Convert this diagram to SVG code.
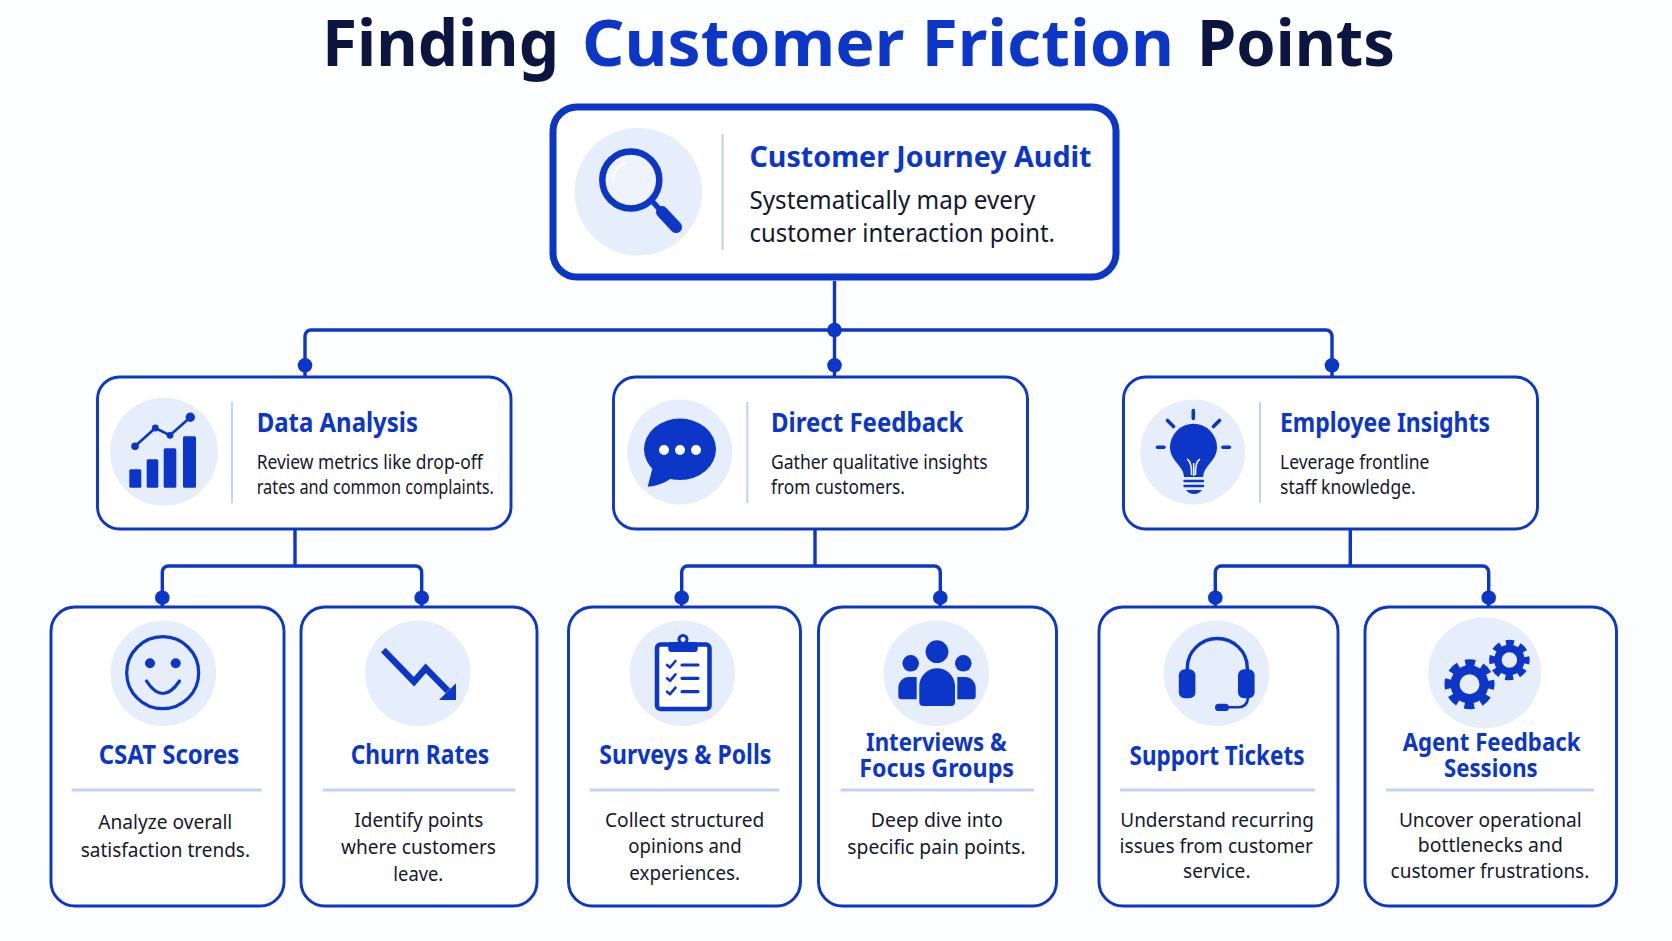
<svg xmlns="http://www.w3.org/2000/svg" width="1672" height="941" viewBox="0 0 1672 941">
<style>
text{font-family:"Noto Sans","Open Sans","Liberation Sans",sans-serif}
.box{fill:#fff;stroke:#0b36c8;stroke-width:2.9}
.soft{fill:#e6edfb}
.rule{stroke:#c3d1f2;fill:none}
.t{font-weight:700;fill:#0b36c8;font-size:26px}
.t2{font-size:24.5px}
.b{font-weight:400;fill:#14182c;font-size:19px}
.lb{font-weight:400;fill:#14182c;font-size:20.5px}
.ic{fill:#0b36c8}
.ln{fill:none;stroke:#0b36c8;stroke-linecap:round;stroke-linejoin:round}
.con{fill:none;stroke:#0b36c8;stroke-width:3.4;stroke-linejoin:round}
.h{font-size:64px;font-weight:700}
</style>
<rect width="1672" height="941" fill="#fdfeff"/>
<g id="title">
<text class="h" x="322" y="66" fill="#0b1540" textLength="237" lengthAdjust="spacingAndGlyphs">Finding</text>
<text class="h" x="582" y="66" fill="#0b36c8" textLength="592" lengthAdjust="spacingAndGlyphs">Customer Friction</text>
<text class="h" x="1197" y="66" fill="#0b1540" textLength="198" lengthAdjust="spacingAndGlyphs">Points</text>
</g>

<g id="connectors">
<path class="con" d="M834.5 281V377M305 377V336a6 6 0 0 1 6-6H1326a6 6 0 0 1 6 6V377"/>
<path class="con" d="M295 529V566M162.3 607V572a6 6 0 0 1 6-6H415.7a6 6 0 0 1 6 6V607"/>
<path class="con" d="M815 529V566M681.7 607V572a6 6 0 0 1 6-6H934.3a6 6 0 0 1 6 6V607"/>
<path class="con" d="M1350.3 529V566M1215.3 607V572a6 6 0 0 1 6-6H1482.7a6 6 0 0 1 6 6V607"/>
<g class="ic">
<circle cx="834.5" cy="330" r="7.3"/><circle cx="834.5" cy="365.3" r="7.3"/><circle cx="305" cy="365.3" r="7.3"/><circle cx="1332" cy="365.3" r="7.3"/>
<circle cx="162.3" cy="597.7" r="7.3"/><circle cx="421.7" cy="597.7" r="7.3"/><circle cx="681.7" cy="597.7" r="7.3"/><circle cx="940.3" cy="597.7" r="7.3"/><circle cx="1215.3" cy="597.7" r="7.3"/><circle cx="1488.7" cy="597.7" r="7.3"/>
</g>
</g>

<g id="node-audit">
<rect class="box" x="553" y="107" width="563" height="170" rx="24" style="stroke-width:7"/>
<circle class="soft" cx="638.3" cy="191.7" r="63.8"/>
<circle cx="630.8" cy="180" r="28.5" fill="#eef3fd" stroke="#0b36c8" stroke-width="6.5"/>
<path d="M613 180a18 18 0 0 1 12-17" fill="none" stroke="#fff" stroke-width="2.5" stroke-linecap="round"/>
<path class="ln" d="M652 201L662 212" stroke-width="5.5"/>
<path class="ln" d="M662 212L676 227" stroke-width="12"/>
<path class="rule" d="M722.6 134V250" stroke-width="2.2"/>
<text class="t" x="749.5" y="167.3" style="font-size:29px" textLength="342" lengthAdjust="spacingAndGlyphs">Customer Journey Audit</text>
<text class="b" x="749.5" y="209.3" style="font-size:25px" textLength="285.8" lengthAdjust="spacingAndGlyphs">Systematically map every</text>
<text class="b" x="749.5" y="241.7" style="font-size:25px" textLength="305.5" lengthAdjust="spacingAndGlyphs">customer interaction point.</text>
</g>

<g id="node-data-analysis">
<rect class="box" x="97.5" y="377" width="413.5" height="152" rx="22"/>
<circle class="soft" cx="164" cy="451.8" r="54"/>
<g class="ic">
<rect x="129.3" y="469.3" width="12" height="18.4" rx="1.5"/><rect x="146.7" y="459.3" width="11.6" height="28.4" rx="1.5"/><rect x="163.7" y="448.3" width="12.6" height="39.4" rx="1.5"/><rect x="183" y="436.3" width="13" height="51.4" rx="1.5"/>
<circle cx="135" cy="446.3" r="3.8"/><circle cx="155.3" cy="428" r="3.4"/><circle cx="170" cy="435.3" r="3.4"/><circle cx="190.3" cy="417.3" r="4.7"/>
</g>
<path class="ln" d="M135 446.3L155.3 428L170 435.3L190.3 417.3" stroke-width="2.6"/>
<path class="rule" d="M232 401.7V503.3" stroke-width="2"/>
<text class="t" x="256.7" y="432.3" textLength="161.3" lengthAdjust="spacingAndGlyphs">Data Analysis</text>
<text class="b" x="256.7" y="469" textLength="226" lengthAdjust="spacingAndGlyphs">Review metrics like drop-off</text>
<text class="b" x="256.7" y="494.3" textLength="237.3" lengthAdjust="spacingAndGlyphs">rates and common complaints.</text>
</g>

<g id="node-direct-feedback">
<rect class="box" x="613.5" y="377" width="414" height="152" rx="22"/>
<circle class="soft" cx="679.7" cy="452" r="52.5"/>
<ellipse class="ic" cx="680" cy="449.3" rx="36" ry="30.7"/>
<path class="ic" d="M653 466L647.7 486.7Q660 486 672 478Z"/>
<g fill="#fff"><circle cx="664" cy="450" r="5"/><circle cx="680" cy="450" r="5"/><circle cx="696" cy="450" r="5"/></g>
<path class="rule" d="M747.3 402V503" stroke-width="2"/>
<text class="t" x="771" y="432.3" textLength="192.3" lengthAdjust="spacingAndGlyphs">Direct Feedback</text>
<text class="b" x="771" y="469" textLength="216.7" lengthAdjust="spacingAndGlyphs">Gather qualitative insights</text>
<text class="b" x="771" y="494.3" textLength="134" lengthAdjust="spacingAndGlyphs">from customers.</text>
</g>

<g id="node-employee-insights">
<rect class="box" x="1123.5" y="377" width="414" height="152" rx="22"/>
<circle class="soft" cx="1192.7" cy="452" r="52.5"/>
<path class="ic" d="M1184 477C1184 466 1170 461 1170 447.3a23.5 23.5 0 0 1 47 0C1217 461 1203.3 466 1203.3 477Z"/>
<path d="M1193.7 476V463M1187 459Q1192 462 1191.5 475M1200 459Q1195 462 1195.5 475" fill="none" stroke="#e6edfb" stroke-width="1.6"/>
<path class="ln" d="M1184.5 481H1203M1184.5 486H1203" stroke-width="2.4"/>
<path class="ic" d="M1186 490H1202Q1199 494 1194 494Q1189 494 1186 490Z"/>
<path class="ln" d="M1193.3 410.5V418.5M1167.5 420.5L1173.5 426.5M1219.5 420.5L1213.5 426.5M1157.5 447.3H1164M1223 447.3H1229.5" stroke-width="3.6"/>
<path class="rule" d="M1260 402V503" stroke-width="2"/>
<text class="t" x="1280" y="432.3" textLength="210" lengthAdjust="spacingAndGlyphs">Employee Insights</text>
<text class="b" x="1280" y="469" textLength="149.3" lengthAdjust="spacingAndGlyphs">Leverage frontline</text>
<text class="b" x="1280" y="494.3" textLength="135.7" lengthAdjust="spacingAndGlyphs">staff knowledge.</text>
</g>

<g id="node-csat">
<rect class="box" x="51" y="607" width="233" height="299" rx="24"/>
<circle class="soft" cx="163.3" cy="673.3" r="52.8"/>
<circle cx="162.7" cy="672.7" r="36" fill="none" stroke="#0b36c8" stroke-width="3.2"/>
<circle class="ic" cx="150" cy="663.3" r="5"/><circle class="ic" cx="175.7" cy="663.3" r="5"/>
<path class="ln" d="M146.5 681Q162.7 706 179.5 681" stroke-width="3.2"/>
<text class="t" x="98.7" y="764" textLength="140.6" lengthAdjust="spacingAndGlyphs">CSAT Scores</text>
<path class="rule" d="M71.7 790H261.7" stroke-width="3"/>
<text class="lb" x="98.3" y="829" textLength="134" lengthAdjust="spacingAndGlyphs">Analyze overall</text>
<text class="lb" x="80.7" y="856.7" textLength="169.3" lengthAdjust="spacingAndGlyphs">satisfaction trends.</text>
</g>

<g id="node-churn">
<rect class="box" x="301" y="607" width="236" height="299" rx="24"/>
<circle class="soft" cx="417.8" cy="673.3" r="52.8"/>
<path d="M383.3 650L414 681.7L425.7 668.3L448 691" fill="none" stroke="#0b36c8" stroke-width="6.5"/>
<path class="ic" d="M456 683.3V700H439Z"/>
<text class="t" x="350.7" y="764" textLength="138.6" lengthAdjust="spacingAndGlyphs">Churn Rates</text>
<path class="rule" d="M322.7 790H515.3" stroke-width="3"/>
<text class="lb" x="354.3" y="826.7" textLength="129" lengthAdjust="spacingAndGlyphs">Identify points</text>
<text class="lb" x="341" y="854" textLength="155" lengthAdjust="spacingAndGlyphs">where customers</text>
<text class="lb" x="393.3" y="881" textLength="50" lengthAdjust="spacingAndGlyphs">leave.</text>
</g>

<g id="node-surveys">
<rect class="box" x="568.5" y="607" width="232" height="299" rx="24"/>
<circle class="soft" cx="682.3" cy="673.3" r="52.8"/>
<rect x="657" y="644.5" width="52.5" height="64.5" rx="3.5" fill="#fff" stroke="#0b36c8" stroke-width="4.5"/>
<rect class="ic" x="668.3" y="642" width="29.4" height="10" rx="3"/>
<circle class="ic" cx="683" cy="639.5" r="5.5"/><circle cx="683" cy="639.5" r="2.4" fill="#fff"/>
<path class="ln" d="M667 665L670 667.5L675.5 661M667 678.3L670 680.8L675.5 674.3M667 691.7L670 694.2L675.5 687.7" stroke-width="2.6"/>
<path class="ln" d="M682 665H698M682 678.3H698M682 691.7H698" stroke-width="3.2"/>
<text class="t" x="599.3" y="763.5" textLength="172" lengthAdjust="spacingAndGlyphs">Surveys &amp; Polls</text>
<path class="rule" d="M589.7 790H779.3" stroke-width="3"/>
<text class="lb" x="605" y="826.7" textLength="159.3" lengthAdjust="spacingAndGlyphs">Collect structured</text>
<text class="lb" x="628.3" y="853.3" textLength="113.4" lengthAdjust="spacingAndGlyphs">opinions and</text>
<text class="lb" x="629.3" y="880" textLength="110.7" lengthAdjust="spacingAndGlyphs">experiences.</text>
</g>

<g id="node-interviews">
<rect class="box" x="818.5" y="607" width="238" height="299" rx="24"/>
<circle class="soft" cx="936.2" cy="673.3" r="52.8"/>
<g class="ic">
<circle cx="937" cy="651.7" r="11.4"/><circle cx="910.7" cy="663.3" r="8.3"/><circle cx="963.3" cy="663.3" r="8.3"/>
<path d="M919.3 686a17.8 17.8 0 0 1 35.7 0V702a4 4 0 0 1-4 4H923.3a4 4 0 0 1-4-4Z"/>
<path d="M916.7 677H909a10.7 10.7 0 0 0-10.7 10.7V696.3a3 3 0 0 0 3 3H916.7Z"/>
<path d="M957.3 677H965a10.7 10.7 0 0 1 10.7 10.7V696.3a3 3 0 0 1-3 3H957.3Z"/>
</g>
<text class="t t2" x="866" y="750.5" textLength="140.7" lengthAdjust="spacingAndGlyphs">Interviews &amp;</text>
<text class="t t2" x="859.3" y="777" textLength="154.7" lengthAdjust="spacingAndGlyphs">Focus Groups</text>
<path class="rule" d="M840.7 790H1034" stroke-width="3"/>
<text class="lb" x="870.7" y="826.7" textLength="132" lengthAdjust="spacingAndGlyphs">Deep dive into</text>
<text class="lb" x="847.3" y="854" textLength="178.4" lengthAdjust="spacingAndGlyphs">specific pain points.</text>
</g>

<g id="node-support">
<rect class="box" x="1099" y="607" width="239" height="299" rx="24"/>
<circle class="soft" cx="1216.5" cy="673.3" r="52.8"/>
<path class="ln" d="M1187.3 672V668a30 29.5 0 0 1 60 0V672" stroke-width="3.4"/>
<rect class="ic" x="1178.8" y="669.3" width="16.6" height="29" rx="6"/>
<rect class="ic" x="1238" y="669.3" width="16.6" height="29" rx="6"/>
<path class="ln" d="M1248 698Q1247 707.3 1238 707.3H1226" stroke-width="2.6"/>
<rect class="ic" x="1215" y="703.7" width="14" height="7.4" rx="3.7"/>
<text class="t" x="1129.6" y="765" textLength="174.9" lengthAdjust="spacingAndGlyphs">Support Tickets</text>
<path class="rule" d="M1120 790H1315" stroke-width="3"/>
<text class="lb" x="1120.3" y="826.7" textLength="193.5" lengthAdjust="spacingAndGlyphs">Understand recurring</text>
<text class="lb" x="1119.6" y="852.7" textLength="193.4" lengthAdjust="spacingAndGlyphs">issues from customer</text>
<text class="lb" x="1183" y="878.3" textLength="67.5" lengthAdjust="spacingAndGlyphs">service.</text>
</g>

<g id="node-agent">
<rect class="box" x="1365" y="607" width="251.5" height="299" rx="24"/>
<ellipse class="soft" cx="1484.6" cy="672.8" rx="56.5" ry="55.5"/>
<circle cx="1469.5" cy="684.3" r="14.5" fill="none" stroke="#0b36c8" stroke-width="9"/>
<circle cx="1469.5" cy="684.3" r="21" fill="none" stroke="#0b36c8" stroke-width="8" stroke-dasharray="9.6 6.89" stroke-dashoffset="4.8"/>
<circle cx="1509.4" cy="660" r="11.5" fill="none" stroke="#0b36c8" stroke-width="7.5"/>
<circle cx="1509.4" cy="660" r="17" fill="none" stroke="#0b36c8" stroke-width="6.5" stroke-dasharray="7.8 5.55" stroke-dashoffset="3.9"/>
<text class="t t2" x="1402.7" y="750.5" textLength="177.7" lengthAdjust="spacingAndGlyphs">Agent Feedback</text>
<text class="t t2" x="1444" y="777" textLength="93.7" lengthAdjust="spacingAndGlyphs">Sessions</text>
<path class="rule" d="M1386 790H1594" stroke-width="3"/>
<text class="lb" x="1398.9" y="826.7" textLength="182.8" lengthAdjust="spacingAndGlyphs">Uncover operational</text>
<text class="lb" x="1417.8" y="852.3" textLength="145" lengthAdjust="spacingAndGlyphs">bottlenecks and</text>
<text class="lb" x="1390.6" y="878.3" textLength="198.7" lengthAdjust="spacingAndGlyphs">customer frustrations.</text>
</g>
</svg>
